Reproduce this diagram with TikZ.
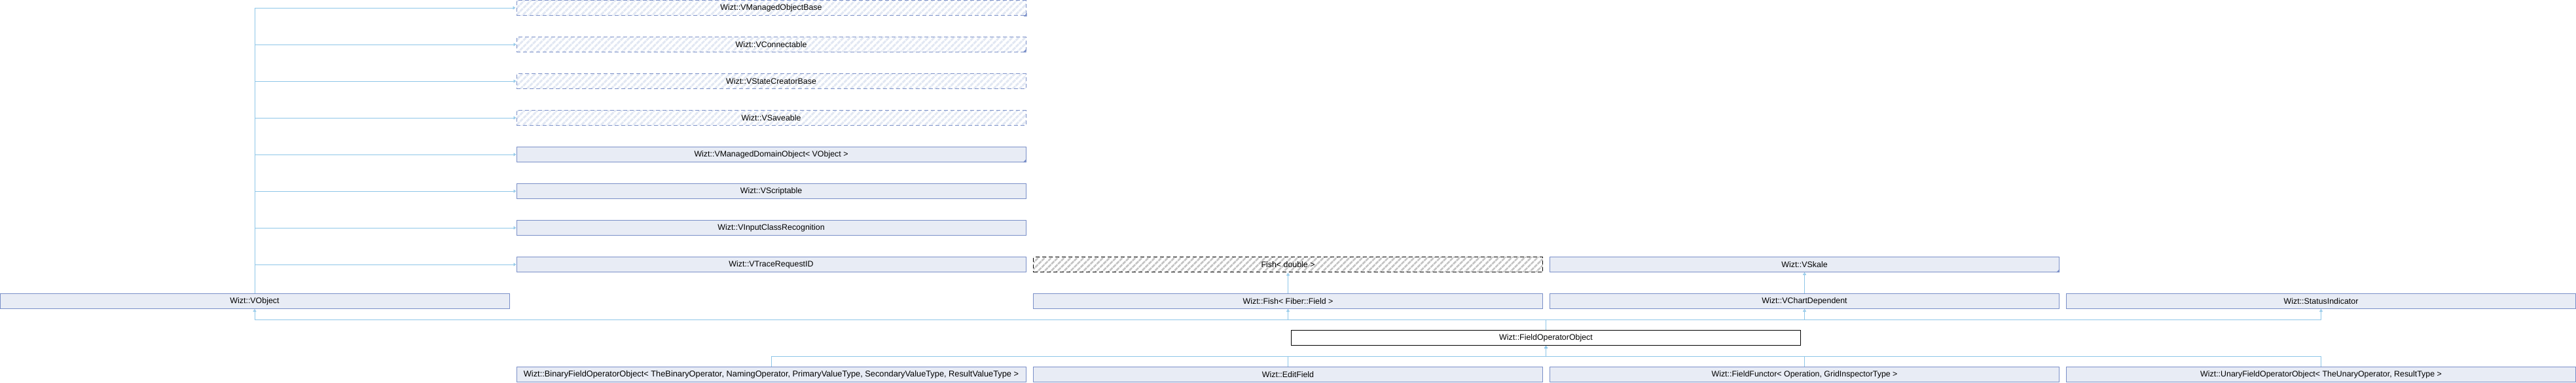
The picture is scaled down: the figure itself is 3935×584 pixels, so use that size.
\documentclass[tikz,border=0pt]{standalone}
\usepackage{fontspec}
\setmainfont{Liberation Sans}
\usetikzlibrary{arrows.meta,patterns.meta}
\definecolor{boxfill}{HTML}{E8ECF5}
\definecolor{boxline}{HTML}{7A8FC8}
\definecolor{edgecol}{HTML}{8EC6E8}
\definecolor{hatchblue}{HTML}{E2E8F3}
\definecolor{hatchgrey}{HTML}{C4C4C4}
\begin{document}
\begin{tikzpicture}[x=1pt,y=-1pt,
  cls/.style={draw=boxline, fill=boxfill, line width=1pt, minimum width=778pt, minimum height=23pt, inner sep=0pt, font=\fontsize{12.4}{14}\selectfont, text=black},
  undoc/.style={draw=boxline, line width=1pt, dash pattern=on 6pt off 4pt, minimum width=778pt, minimum height=23pt, inner sep=0pt, font=\fontsize{12.4}{14}\selectfont,
     pattern={Lines[angle=45,distance=7pt,line width=3pt]}, pattern color=hatchblue},
  extern/.style={draw=black, line width=1pt, dash pattern=on 6pt off 4pt, minimum width=778pt, minimum height=23pt, inner sep=0pt, font=\fontsize{12.4}{14}\selectfont,
     pattern={Lines[angle=45,distance=7pt,line width=2.6pt]}, pattern color=hatchgrey},
  focus/.style={draw=black, fill=white, line width=1pt, minimum width=778pt, minimum height=23pt, inner sep=0pt, font=\fontsize{12.4}{14}\selectfont},
  inh/.style={draw=edgecol, line width=1pt, -{Triangle[open,length=4pt,width=5pt]}},
  plainedge/.style={draw=edgecol, line width=1pt}
]
\useasboundingbox (0,0) rectangle (3935,584);

% column 2 bases
\node[undoc] (mob) at (1178,12) {Wizt::VManagedObjectBase};
\node[undoc] (con) at (1178,68) {Wizt::VConnectable};
\node[undoc] (scb) at (1178,124) {Wizt::VStateCreatorBase};
\node[undoc] (sav) at (1178,180) {Wizt::VSaveable};
\node[cls] (mdo) at (1178,236) {Wizt::VManagedDomainObject< VObject >};
\node[cls] (scr) at (1178,292) {Wizt::VScriptable};
\node[cls] (icr) at (1178,348) {Wizt::VInputClassRecognition};
\node[cls] (tri) at (1178,404) {Wizt::VTraceRequestID};
\node[extern] (fdb) at (1967.5,404) {Fish< double >};
\node[cls] (skl) at (2756.5,404) {Wizt::VSkale};

% row of direct bases
\node[cls] (vob) at (389,460) {Wizt::VObject};
\node[cls] (fff) at (1967.5,460) {Wizt::Fish< Fiber::Field >};
\node[cls] (vcd) at (2756.5,460) {Wizt::VChartDependent};
\node[cls] (sti) at (3545.5,460) {Wizt::StatusIndicator};

% focus class
\node[focus] (foo) at (2361.5,516) {Wizt::FieldOperatorObject};

% derived classes
\node[cls, font=\fontsize{12.8}{14}\selectfont] (bfo) at (1178,572) {Wizt::BinaryFieldOperatorObject< TheBinaryOperator, NamingOperator, PrimaryValueType, SecondaryValueType, ResultValueType >};
\node[cls] (edf) at (1967.5,572) {Wizt::EditField};
\node[cls] (ffn) at (2756.5,572) {Wizt::FieldFunctor< Operation, GridInspectorType >};
\node[cls] (ufo) at (3545.5,572) {Wizt::UnaryFieldOperatorObject< TheUnaryOperator, ResultType >};

% "more" markers
\foreach \n in {mob,con,mdo,skl}{
  \fill[boxline] (\n.south east) -- ++(-5,0) -- ++(5,-5) -- cycle;
}

% VObject -> column 2 bases
\foreach \t in {mob,con,scb,sav,mdo,scr,icr,tri}{
  \draw[inh] (vob.north) |- (\t.west);
}

% vertical inheritance
\draw[inh] (fff.north) -- (fdb.south);
\draw[inh] (vcd.north) -- (skl.south);

% FieldOperatorObject -> its bases
\coordinate (upj) at (2361.5,488);
\foreach \t in {vob,fff,vcd,sti}{
  \draw[inh] (foo.north) -- (upj) -| (\t.south);
}

% derived -> FieldOperatorObject
\coordinate (dnj) at (2361.5,544);
\foreach \s in {bfo,edf,ffn,ufo}{
  \draw[inh] (\s.north) |- (dnj) -- (foo.south);
}
\end{tikzpicture}
\end{document}
